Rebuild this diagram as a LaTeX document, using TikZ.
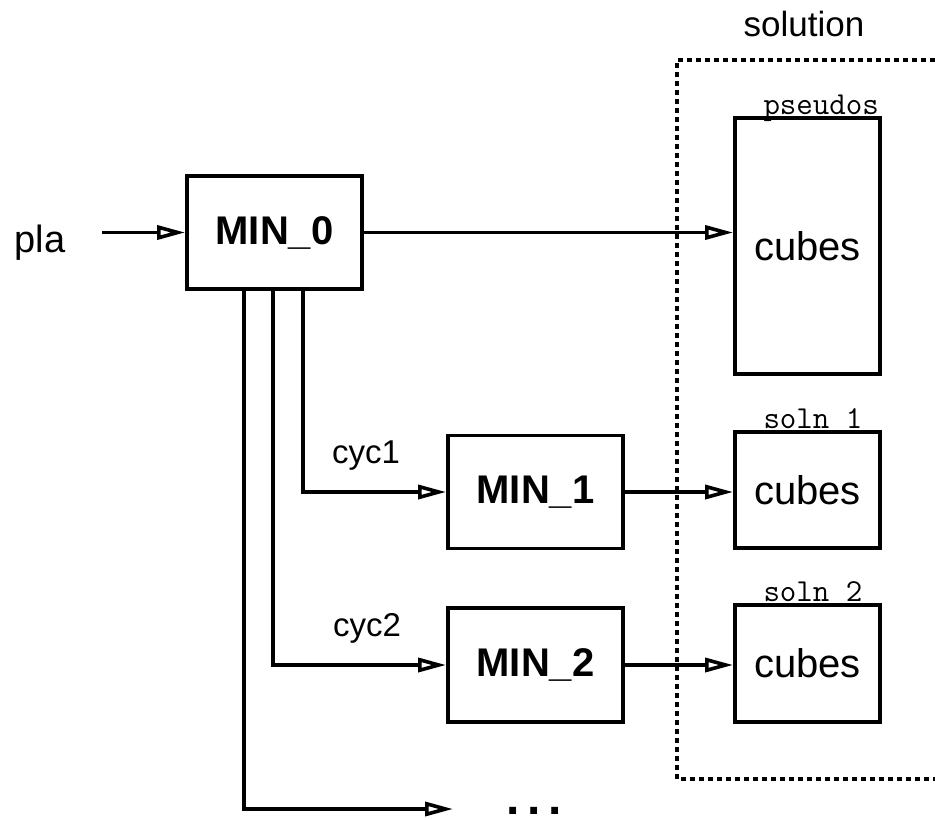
\documentclass[tikz,border=0pt]{standalone}
\usepackage{fontspec}
\setmainfont{Liberation Sans}
\usetikzlibrary{arrows.meta}
\begin{document}
\begin{tikzpicture}[x=0.5pt,y=-0.5pt,
  box/.style={draw,line width=1.9pt,inner sep=0pt,font=\fontsize{20}{24}\selectfont},
  minbox/.style={box,minimum width=87.5pt,minimum height=56.5pt,font=\fontsize{20}{24}\selectfont\bfseries},
  cubebox/.style={box,minimum width=72.5pt,minimum height=58pt},
  conn/.style={line width=1.8pt,-{Triangle[open,length=14pt,width=7pt,line width=1.8pt]}},
  lbl/.style={font=\fontsize{20}{24}\selectfont,inner sep=0pt},
  tag/.style={font=\fontsize{16}{18}\selectfont\ttfamily,inner sep=0pt,anchor=base west}]
\useasboundingbox (0,0) rectangle (935,819);
\fill[white] (0,0) rectangle (935,819);
% dashed solution frame
\draw[line width=2pt,dash pattern=on 2.5pt off 2pt] (935,60) -- (677,60) -- (677,779) -- (935,779);
\node[lbl,font=\fontsize{17.5}{20}\selectfont] (sol) at (804,24) {solution};
% boxes
\node[minbox] (m0) at (274.5,232.5) {MIN\_0};
\node[minbox] (m1) at (535.5,492) {MIN\_1};
\node[minbox,minimum height=57pt] (m2) at (535.5,665) {MIN\_2};
\node[cubebox,minimum height=128pt] (ps) at (807.5,246) {\raisebox{-5.5pt}{cubes}};
\node[cubebox] (s1) at (807.5,490) {cubes};
\node[cubebox,minimum height=58.5pt] (s2) at (807.5,663.5) {cubes};
% tags
\node[tag] (tps) at ([xshift=15pt,yshift=1pt]ps.north west) {pseudos};
\node[tag] (ts1) at ([xshift=15pt,yshift=1pt]s1.north west) {soln 1};
\node[tag] (ts2) at ([xshift=15pt,yshift=1pt]s2.north west) {soln 2};
% labels
\node[lbl,font=\fontsize{19}{22}\selectfont] (pla) at (40,243) {pla};
\coordinate (pin) at (102,232.5);
\draw[conn] (pin) -- (pin -| m0.west);
\draw[conn] (m0.east) -- (m0.east -| ps.west);
\draw[conn] (m1.east) -- (m1.east -| s1.west);
\draw[conn] (m2.east) -- (m2.east -| s2.west);
% cycle branches
\coordinate (b1) at (303,0);
\coordinate (b2) at (273,0);
\coordinate (b3) at (244,0);
\draw[conn] (b1 |- m0.south) |- (m1.west);
\draw[conn] (b2 |- m0.south) |- (m2.west);
\coordinate (dend) at (453,809);
\draw[conn] (b3 |- m0.south) |- (dend);
\node[lbl,font=\fontsize{16.5}{20}\selectfont] (c1) at (366,456) {cyc1};
\node[lbl,font=\fontsize{16.5}{20}\selectfont] (c2) at (367,628) {cyc2};
\node[lbl,font=\fontsize{24}{26}\selectfont\bfseries,anchor=base] (dots) at (534,814) {.\,.\,.};
\end{tikzpicture}
\end{document}
